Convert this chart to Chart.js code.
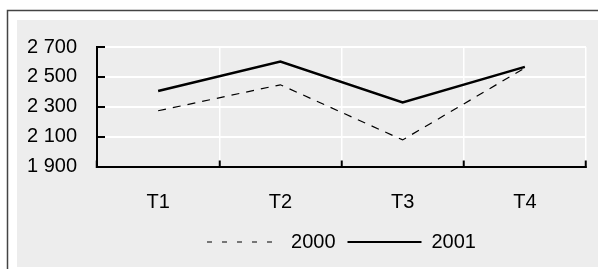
<!DOCTYPE html>
<html>
<head>
<meta charset="utf-8">
<script src="https://cdn.jsdelivr.net/npm/chart.js@4"></script>
<style>
  html, body { margin: 0; padding: 0; background: #ffffff; }
  #wrap { position: relative; width: 598px; height: 269px; }
</style>
</head>
<body>
<div id="wrap"><canvas id="myChart" width="598" height="269"></canvas></div>
<script>
// datos del gráfico
var trimestres = ['T1', 'T2', 'T3', 'T4'];
var serie2000 = [2273, 2447, 2078, 2560];
var serie2001 = [2405, 2602, 2329, 2567];
var nombres = ['2000', '2001'];
var ticksY = [1900, 2100, 2300, 2500, 2700];

var fuente = "'Liberation Sans', Arial, sans-serif";

// fondo gris y marco como en el original
const fondo = {
    id: 'fondo',
    beforeDraw(chart) {
        const c = chart.ctx;
        c.save();
        c.fillStyle = '#ffffff';
        c.fillRect(0, 0, chart.width, chart.height);
        c.fillStyle = '#ededed';
        c.fillRect(17, 20, chart.width - 17, 247);
        c.strokeStyle = '#444444';
        c.lineWidth = 1.5;
        c.beginPath();
        c.moveTo(7.5, chart.height);
        c.lineTo(7.5, 10.5);
        c.lineTo(chart.width, 10.5);
        c.stroke();
        c.restore();
    }
};

const ctx = document.getElementById('myChart');

new Chart(ctx, {
    type: 'line',
    data: {
        labels: trimestres,
        datasets: [{
            label: nombres[0],
            data: serie2000,
            borderColor: '#000000',
            backgroundColor: '#000000',
            borderWidth: 1.2,
            borderDash: [8, 7],
            pointRadius: 0,
            tension: 0
        }, {
            label: nombres[1],
            data: serie2001,
            borderColor: '#000000',
            backgroundColor: '#000000',
            borderWidth: 2.5,
            pointRadius: 0,
            tension: 0
        }]
    },
    options: {
        responsive: false,
        animation: false,
        devicePixelRatio: 1,
        layout: { padding: { left: 17, right: 12, top: 47, bottom: 7 } },
        plugins: {
            tooltip: { enabled: false },
            legend: {
                position: 'bottom',
                fullSize: false,
                labels: {
                    color: '#000000',
                    font: { family: fuente, size: 20 },
                    usePointStyle: true,
                    pointStyle: 'line',
                    pointStyleWidth: 74,
                    padding: 12,
                    generateLabels: function(chart) {
                        var items = Chart.defaults.plugins.legend.labels.generateLabels(chart);
                        items.forEach(function(it, i) {
                            it.lineDash = i === 0 ? [5, 10] : [];
                            it.lineWidth = i === 0 ? 1.2 : 2;
                            it.strokeStyle = '#000000';
                        });
                        return items;
                    }
                }
            }
        },
        scales: {
            x: {
                offset: true,
                afterFit: function(s) { s.height = 53.5; },
                grid: { offset: true, color: '#ffffff', lineWidth: 1.5, tickColor: '#000000', tickWidth: 2, tickLength: -6 },
                border: { color: '#000000', width: 2 },
                ticks: { color: '#000000', font: { family: fuente, size: 20 }, padding: 29.5, maxRotation: 0 }
            },
            y: {
                min: 1900,
                max: 2700,
                afterFit: function(s) { s.width = 80; },
                afterBuildTicks: function(s) { s.ticks = ticksY.map(function(v) { return { value: v }; }); },
                grid: { color: '#ffffff', lineWidth: 2, tickColor: '#000000', tickWidth: 2, tickLength: -8 },
                border: { color: '#000000', width: 2 },
                ticks: {
                    color: '#000000',
                    autoSkip: false,
                    font: { family: fuente, size: 20 },
                    padding: 28,
                    callback: function(v) { return String(v).replace(/\B(?=(\d{3})+(?!\d))/g, ' '); }
                }
            }
        }
    },
    plugins: [fondo]
});
</script>
</body>
</html>
